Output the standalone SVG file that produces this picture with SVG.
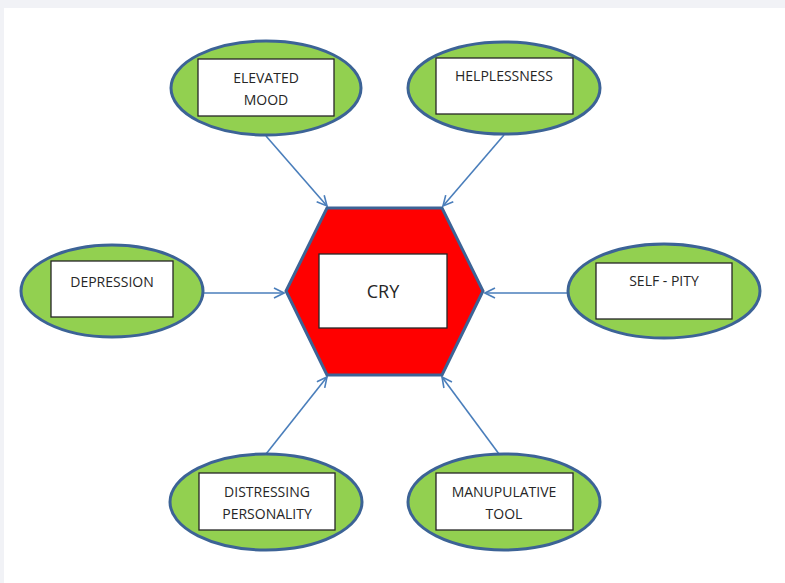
<svg xmlns="http://www.w3.org/2000/svg" width="785" height="583" viewBox="0 0 785 583">
  <defs>
    <style>
      .oval { fill: #92d050; stroke: #3c6396; stroke-width: 3; }
      .box { fill: #ffffff; stroke: #262626; stroke-width: 1.3; }
      .lbl { font-family: "Open Sans", "Liberation Sans", sans-serif; font-size: 14px; fill: #262626; text-anchor: middle; dominant-baseline: central; }
      .big { font-size: 18px; }
      .conn { stroke: #4a7ebb; stroke-width: 1.6; fill: none; marker-end: url(#arr); }
    </style>
    <marker id="arr" viewBox="0 0 12 12" refX="11" refY="6" markerWidth="12" markerHeight="12" markerUnits="userSpaceOnUse" orient="auto">
      <path d="M1,1 L11,6 L1,11" fill="none" stroke="#4a7ebb" stroke-width="1.6"/>
    </marker>
  </defs>
  <rect x="0" y="0" width="785" height="583" fill="#f1f2f6"/>
  <rect x="4" y="8" width="781" height="575" fill="#ffffff"/>

  <g id="connectors">
    <line class="conn" x1="266" y1="136" x2="327" y2="206"/>
    <line class="conn" x1="504" y1="135" x2="443" y2="206"/>
    <line class="conn" x1="203" y1="293" x2="284" y2="293"/>
    <line class="conn" x1="568" y1="293" x2="485" y2="293"/>
    <line class="conn" x1="266" y1="454" x2="327" y2="377"/>
    <line class="conn" x1="499" y1="454" x2="442" y2="377"/>
  </g>

  <g id="cry">
    <polygon points="327,208 442,208 483,291 442,375 327,375 286,291" fill="#ff0000" stroke="#3c6396" stroke-width="3"/>
    <rect class="box" x="319" y="254" width="128" height="74"/>
    <text class="lbl big" x="383" y="291">CRY</text>
  </g>

  <g id="elevated-mood">
    <ellipse class="oval" cx="266" cy="88" rx="95" ry="47"/>
    <rect class="box" x="198" y="59" width="136" height="57"/>
    <text class="lbl" x="266" y="77">ELEVATED</text>
    <text class="lbl" x="266" y="99">MOOD</text>
  </g>

  <g id="helplessness">
    <ellipse class="oval" cx="504" cy="88" rx="96" ry="46"/>
    <rect class="box" x="436" y="58" width="137" height="56"/>
    <text class="lbl" x="504" y="75">HELPLESSNESS</text>
  </g>

  <g id="depression">
    <ellipse class="oval" cx="112" cy="291" rx="91" ry="46"/>
    <rect class="box" x="51" y="261" width="122" height="56"/>
    <text class="lbl" x="112" y="281">DEPRESSION</text>
  </g>

  <g id="self-pity">
    <ellipse class="oval" cx="664" cy="291" rx="96" ry="47"/>
    <rect class="box" x="596" y="263" width="136" height="56"/>
    <text class="lbl" x="664" y="280">SELF - PITY</text>
  </g>

  <g id="distressing-personality">
    <ellipse class="oval" cx="266" cy="502" rx="96" ry="48"/>
    <rect class="box" x="199" y="473" width="136" height="57"/>
    <text class="lbl" x="267" y="491">DISTRESSING</text>
    <text class="lbl" x="267" y="513">PERSONALITY</text>
  </g>

  <g id="manupulative-tool">
    <ellipse class="oval" cx="504" cy="502" rx="96" ry="48"/>
    <rect class="box" x="436" y="473" width="137" height="57"/>
    <text class="lbl" x="504" y="491">MANUPULATIVE</text>
    <text class="lbl" x="504" y="513">TOOL</text>
  </g>
</svg>
